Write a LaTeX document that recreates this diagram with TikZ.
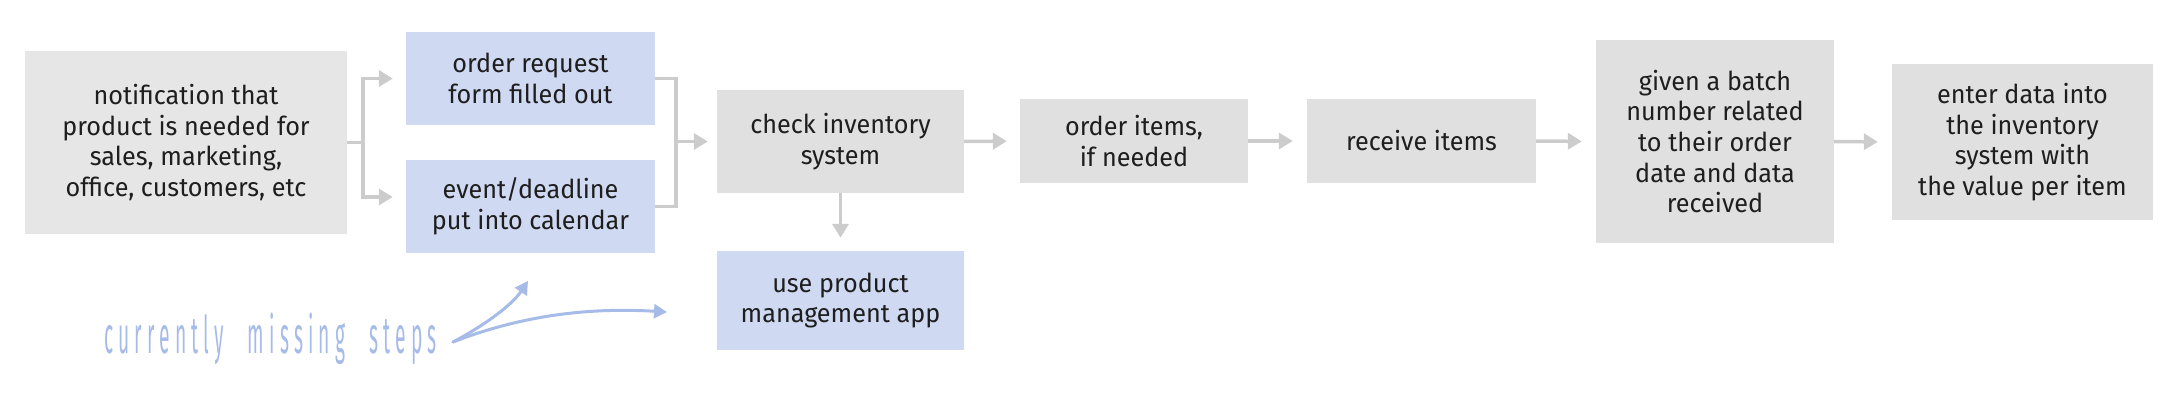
\documentclass[tikz,border=0pt]{standalone}
\usepackage{fontspec}
\usepackage{graphicx}
\setmainfont{Fira Sans}[FakeStretch=0.97]
\newfontfamily\handfont{Fira Sans}[FakeStretch=0.37,LetterSpace=10]
\usetikzlibrary{arrows.meta,calc}
\definecolor{boxgray}{HTML}{E0E0E0}
\definecolor{boxlight}{HTML}{E6E6E6}
\definecolor{boxblue}{HTML}{D0D9F2}
\definecolor{arrgray}{HTML}{CCCCCC}
\definecolor{handblue}{HTML}{A7BBE8}
\definecolor{txt}{HTML}{1E1E1E}
\tikzset{
  box/.style={rectangle, inner sep=0pt, align=center, text=txt,
    font=\fontsize{26}{30.6}\selectfont},
  graybox/.style={box, fill=boxgray},
  lightbox/.style={box, fill=boxlight},
  bluebox/.style={box, fill=boxblue},
  conn/.style={draw=arrgray, line width=3.5pt},
  arr/.style={conn, -{Triangle[length=14pt,width=16pt]}},
  handarr/.style={draw=handblue, line width=3pt, line cap=round,
    -{Triangle[length=13pt,width=14pt]}},
}
\begin{document}
\begin{tikzpicture}[x=1pt,y=-1pt]
\useasboundingbox (0,0) rectangle (2180,415);
% boxes
\node[lightbox, minimum width=322pt, minimum height=183pt] (notif) at (186,142.5)
  {notification that\\product is needed for\\sales, marketing,\\office, customers, etc};
\node[bluebox, minimum width=249pt, minimum height=93pt] (orderreq) at (530.5,78.5)
  {order request\\form filled out};
\node[bluebox, minimum width=249pt, minimum height=93pt] (event) at (530.5,206.5)
  {event/deadline\\put into calendar};
\node[graybox, minimum width=247pt, minimum height=103pt] (check) at (840.5,141.5)
  {check inventory\\system};
\node[bluebox, minimum width=247pt, minimum height=99pt] (app) at (840.5,300.5)
  {use product\\management app};
\node[graybox, minimum width=228pt, minimum height=84pt] (orderitems) at (1134,141)
  {order items,\\if needed};
\node[graybox, minimum width=229pt, minimum height=84pt] (receive) at (1421.5,141)
  {receive items};
\node[graybox, minimum width=238pt, minimum height=203pt] (batch) at (1715,141.5)
  {given a batch\\number related\\to their order\\date and data\\received};
\node[graybox, minimum width=261pt, minimum height=156pt] (enter) at (2022.5,142)
  {enter data into\\the inventory\\system with\\the value per item};
% connectors
\coordinate (j1) at ($(notif.east)+(16,0)$);
\draw[conn] (notif.east) -- (j1);
\draw[arr, shorten >=13pt] (j1) |- (orderreq.west);
\draw[arr, shorten >=13pt] (j1) |- ([yshift=9.5pt]event.west);
\coordinate (j2) at ($(orderreq.east)+(21,0)$);
\draw[conn] (orderreq.east) -| (j2 |- event.east) -- (event.east);
\draw[arr, shorten >=9pt] (j2 |- check.west) -- (check.west);
\draw[arr, shorten >=13pt] (check.south) -- (app.north);
\draw[arr, shorten >=13pt] (check.east) -- (orderitems.west);
\draw[arr, shorten >=14pt] (orderitems.east) -- (receive.west);
\draw[arr, shorten >=14pt] (receive.east) -- (batch.west);
\draw[arr, shorten >=14pt] (batch.east) -- (enter.west);
% missing steps
\node[text=handblue, inner sep=0pt, anchor=base west, font=\handfont\fontsize{52}{52}\selectfont] (missing) at (104,353)
  {currently\hspace{24pt}missing\hspace{24pt}steps};
\coordinate (s) at (453,342);
\coordinate (t1) at (528,281);
\coordinate (t2) at (667,312);
\draw[handarr] (s) .. controls (485,325) and (512,305) .. (t1);
\draw[handarr] (s) .. controls (530,312) and (600,308) .. (t2);
\end{tikzpicture}
\end{document}
